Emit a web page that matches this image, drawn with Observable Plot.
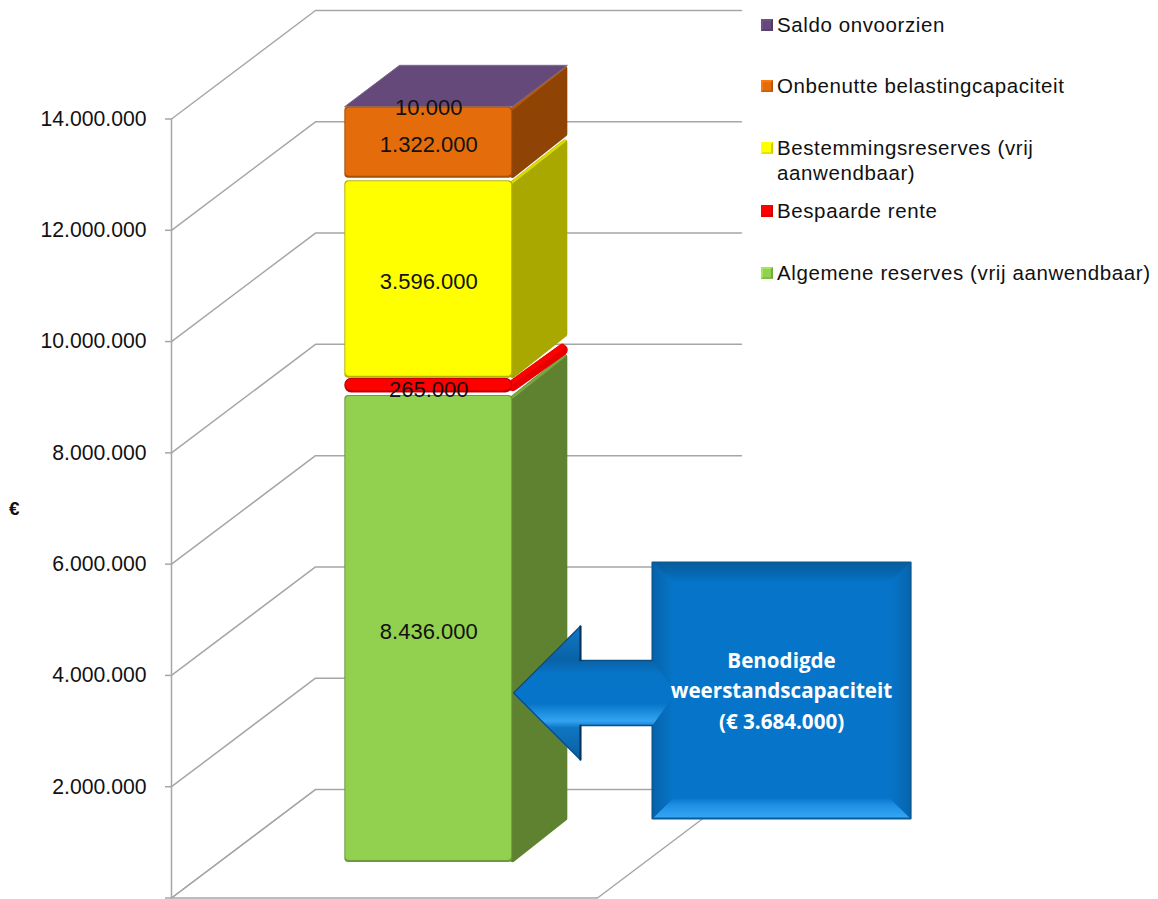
<!DOCTYPE html>
<html lang="nl">
<head>
<meta charset="utf-8">
<title>Weerstandscapaciteit</title>
<script src="https://cdn.jsdelivr.net/npm/d3@7"></script>
<script src="https://cdn.jsdelivr.net/npm/@observablehq/plot@0.6"></script>
<style>
  html, body { margin: 0; padding: 0; background: #fff; overflow: hidden; }
  #chart { position: relative; width: 1158px; height: 899px; font-family: "Liberation Sans", Arial, sans-serif; }
  #chart svg { display: block; overflow: visible; }
  .legend-item { position: absolute; left: 761px; color: #111; font-size: 20.5px; line-height: 25px; letter-spacing: 0.6px; width: 394px; padding-left: 16px; box-sizing: border-box; }
  .legend-item i { position: absolute; left: 0; top: 7px; width: 12px; height: 12px; box-sizing: border-box; border: 2px solid; }
  .euro { position: absolute; left: 9px; top: 498px; font-size: 19px; font-weight: bold; color: #111; }
</style>
</head>
<body>
<div id="chart"></div>
<script>
// Opbouw van de beschikbare weerstandscapaciteit, van onder naar boven gestapeld.
const categories = [
  "Algemene reserves (vrij aanwendbaar)",
  "Bespaarde rente",
  "Bestemmingsreserves (vrij aanwendbaar)",
  "Onbenutte belastingcapaciteit",
  "Saldo onvoorzien"
];
const amounts = [8436000, 265000, 3596000, 1322000, 10000];
const frontColors = ["#92D050", "#FF0000", "#FFFF00", "#E46C0A", "#65497A"];
const sideColors = ["#5F8231", "#E80000", "#A8A800", "#8F4406", "#65497A"];
const edgeColors = ["#6E9A3A", "#C00000", "#B5B500", "#A85006", "#4B3560"];
const ridgeColors = ["#78A93E", "#FF0000", "#DADA00", "#B65A08", "#65497A"];
const legendTops = [260, 198, 135, 73, 12];
const tickValues = [0, 2000000, 4000000, 6000000, 8000000, 10000000, 12000000, 14000000];
const requiredCapacity = 3684000;

const nl = d3.formatLocale({decimal: ",", thousands: ".", grouping: [3], currency: ["€ ", ""]});
const fmt = nl.format(",d");

// Scheve projectie: de diepte van de grafiekruimte, uitgedrukt in schaaleenheden.
const DEPTH_X = 0.338;
const DEPTH_V = 1950000;
const at = (x, v, d = 0) => ({x: x + d * DEPTH_X, v: v + d * DEPTH_V});

const BAR_L = 0.296, BAR_R = 0.69, D_FRONT = 0.328, D_BACK = 0.708;
const GRID = "#A6A6A6";

const poly = (pts, fill, extra = {}) =>
  Plot.line(pts, {x: "x", y: "v", curve: "linear-closed", fill, stroke: "none", ...extra});

// Achterwand en bodem
const gridMarks = tickValues.map((t) =>
  Plot.line([at(0, t), at(0, t, 1), at(1, t, 1)], {x: "x", y: "v", stroke: GRID, strokeWidth: 1.5})
);
const floorMark = Plot.line([at(0, 0, 1), at(0, 0), at(1, 0), at(1, 0, 1)], {x: "x", y: "v", stroke: GRID, strokeWidth: 1.5});

// Gestapelde segmenten
let base = 0;
const segments = amounts.map((amount, i) => {
  const s = {i, name: categories[i], amount, y0: base, y1: base + amount, mid: base + amount / 2};
  base += amount;
  return s;
});
const total = base;

// Zijvlakken met afgeronde hoeken; de rode laag is zo dun dat die als een band loopt.
const ROUND_X = 0.006, ROUND_V = 50000, TOP_TRIM = 40000;
const sideMarks = segments.slice(0, 4).flatMap((s) => {
  if (s.i === 1) {
    return [
      Plot.line([at(BAR_R, s.mid, D_FRONT), at(BAR_R - 0.012, s.mid - 100000, D_BACK)], {
        x: "x", y: "v", stroke: sideColors[1], strokeWidth: 11, strokeLinecap: "round"
      }),
      Plot.line([at(BAR_R, s.mid + 70000, D_FRONT), at(BAR_R - 0.012, s.mid - 30000, D_BACK)], {
        x: "x", y: "v", stroke: ridgeColors[1], strokeWidth: 5, strokeLinecap: "round"
      })
    ];
  }
  const lo = s.y0 + ROUND_V;
  const hi = s.y1 - ROUND_V - TOP_TRIM;
  return [
    poly(
      [at(BAR_R, lo, D_FRONT), at(BAR_R - ROUND_X, lo, D_BACK), at(BAR_R - ROUND_X, hi, D_BACK), at(BAR_R, hi, D_FRONT)],
      sideColors[s.i],
      {stroke: sideColors[s.i], strokeWidth: 5, strokeLinejoin: "round"}
    ),
    Plot.line([at(BAR_R, hi + ROUND_V * 0.4, D_FRONT), at(BAR_R - ROUND_X, hi + ROUND_V * 0.4, D_BACK)], {
      x: "x", y: "v", stroke: ridgeColors[s.i], strokeWidth: 2.5, strokeLinecap: "round"
    })
  ];
});

const topMark = poly(
  [at(BAR_L, total, D_FRONT), at(BAR_L, total, D_BACK), at(BAR_R, total, D_BACK), at(BAR_R, total, D_FRONT)],
  frontColors[4],
  {stroke: "#7C6A90", strokeWidth: 1, dy: 2.5}
);

const frontFrame = (s) => {
  const a = at(BAR_L, s.y0, D_FRONT), b = at(BAR_R, s.y1, D_FRONT);
  return [{x1: a.x, x2: b.x, y1: a.v, y2: b.v}];
};
const frontMarks = segments.slice(0, 4).flatMap((s) => {
  const red = s.i === 1;
  const rx = red ? 7 : 4;
  const top = red ? 0 : 2.5;
  const box = {x1: "x1", x2: "x2", y1: "y1", y2: "y2", rx, ry: rx};
  return [
    Plot.rect(frontFrame(s), {...box, fill: edgeColors[s.i], insetTop: top}),
    Plot.rect(frontFrame(s), {...box, fill: frontColors[s.i], insetTop: top + 1, insetBottom: 2, insetLeft: 1, insetRight: 1})
  ];
});

const labelMark = Plot.text(segments, {
  x: () => at((BAR_L + BAR_R) / 2, 0, D_FRONT).x,
  y: (s) => at(0, s.mid, D_FRONT).v,
  text: (s) => fmt(s.amount),
  dy: 4,
  fontSize: 22,
  fontFamily: "Liberation Sans",
  fill: "#111"
});

// Kader met de benodigde weerstandscapaciteit
const BOX = {x1: 1.129, x2: 1.735, v1: 1430000, v2: 6030000, bx: 0.05, bv: 370000};
const corner = (x, v) => ({x, v});
const boxOuter = {tl: corner(BOX.x1, BOX.v2), tr: corner(BOX.x2, BOX.v2), br: corner(BOX.x2, BOX.v1), bl: corner(BOX.x1, BOX.v1)};
const boxInner = {
  tl: corner(BOX.x1 + BOX.bx, BOX.v2 - BOX.bv), tr: corner(BOX.x2 - BOX.bx, BOX.v2 - BOX.bv),
  br: corner(BOX.x2 - BOX.bx, BOX.v1 + BOX.bv), bl: corner(BOX.x1 + BOX.bx, BOX.v1 + BOX.bv)
};
const boxMarks = [
  poly([boxOuter.tl, boxOuter.tr, boxOuter.br, boxOuter.bl], "#0675C9"),
  poly([boxOuter.tl, boxOuter.tr, boxInner.tr, boxInner.tl], "url(#bevelTop)"),
  poly([boxOuter.bl, boxOuter.br, boxInner.br, boxInner.bl], "url(#bevelBottom)"),
  poly([boxOuter.tl, boxInner.tl, boxInner.bl, boxOuter.bl], "url(#bevelLeft)"),
  poly([boxOuter.tr, boxInner.tr, boxInner.br, boxOuter.br], "url(#bevelRight)"),
  poly([boxOuter.tl, boxOuter.tr, boxOuter.br, boxOuter.bl], "none", {stroke: "#0A5A96", strokeWidth: 2})
];

// Pijl die naar het benodigde bedrag wijst
const TIP_X = 0.803, HEAD_X = 0.96, TAIL_X = 1.129, NOSE_X = 1.183;
const HEAD_V = 1200000, SHAFT_V = 585000;
const C = requiredCapacity;
const arrowPts = [
  corner(TIP_X, C), corner(HEAD_X, C + HEAD_V), corner(HEAD_X, C + SHAFT_V), corner(TAIL_X, C + SHAFT_V),
  corner(NOSE_X, C), corner(TAIL_X, C - SHAFT_V), corner(HEAD_X, C - SHAFT_V), corner(HEAD_X, C - HEAD_V)
];
const arrowOutline = [
  corner(TAIL_X, C + SHAFT_V), corner(HEAD_X, C + SHAFT_V), corner(HEAD_X, C + HEAD_V), corner(TIP_X, C),
  corner(HEAD_X, C - HEAD_V), corner(HEAD_X, C - SHAFT_V), corner(TAIL_X, C - SHAFT_V)
];
const arrowMarks = [
  poly(arrowPts, "url(#arrowFill)"),
  Plot.line(arrowOutline, {x: "x", y: "v", stroke: "#0A4F86", strokeWidth: 1.5, strokeLinejoin: "miter"}),
  Plot.line([corner(HEAD_X, C + HEAD_V), corner(HEAD_X, C + SHAFT_V)], {x: "x", y: "v", stroke: "#06355C", strokeWidth: 2}),
  Plot.line([corner(HEAD_X, C - HEAD_V), corner(HEAD_X, C - SHAFT_V)], {x: "x", y: "v", stroke: "#06355C", strokeWidth: 2})
];

const calloutLines = ["Benodigde", "weerstandscapaciteit", `(€ ${fmt(requiredCapacity)})`];
const calloutMark = Plot.text(calloutLines, {
  x: () => (BOX.x1 + BOX.x2) / 2,
  y: (d, i) => C + 570000 - i * 550000,
  text: (d) => d,
  fill: "#fff",
  fontFamily: "Open Sans",
  fontWeight: 700,
  fontSize: 20.6
});

const gradient = (id, x2, y2, stops) => `
  <linearGradient id="${id}" x1="0" y1="0" x2="${x2}" y2="${y2}">
    ${stops.map(([o, c]) => `<stop offset="${o}" stop-color="${c}"/>`).join("")}
  </linearGradient>`;

// Kleurverlopen voor de afgeschuinde randen van kader en pijl
const defsMark = () => {
  const g = document.createElementNS("http://www.w3.org/2000/svg", "g");
  g.innerHTML = `<defs>
    ${gradient("bevelTop", 0, 1, [[0, "#0A5C9E"], [0.5, "#0567AF"], [1, "#0675C9"]])}
    ${gradient("bevelBottom", 0, 1, [[0, "#0675C9"], [0.35, "#1E8FE2"], [1, "#36A8F7"]])}
    ${gradient("bevelLeft", 1, 0, [[0, "#0763AA"], [1, "#0675C9"]])}
    ${gradient("bevelRight", 1, 0, [[0, "#0675C9"], [1, "#0665AE"]])}
    ${gradient("arrowFill", 0, 1, [[0, "#1078C8"], [0.25, "#0A62A6"], [0.36, "#0675C9"], [0.58, "#0675C9"], [0.71, "#32A4F2"], [0.76, "#0F76C4"], [1, "#0A5E9E"]])}
  </defs>`;
  return g;
};

const plot = Plot.plot({
  width: 1158,
  height: 899,
  marginLeft: 171,
  marginRight: 561,
  marginTop: 118.5,
  marginBottom: 1.5,
  x: {domain: [0, 1], axis: null},
  y: {domain: [0, 14000000], axis: null},
  style: {background: "#fff", fontFamily: "Liberation Sans", overflow: "visible"},
  marks: [
    defsMark,
    ...gridMarks,
    floorMark,
    Plot.ruleX([0], {y1: 0, y2: 14000000, stroke: GRID, strokeWidth: 1.5}),
    Plot.axisY({
      ticks: tickValues,
      tickSize: 6,
      tickPadding: 19,
      tickFormat: (d) => (d === 0 ? "" : fmt(d)),
      label: null,
      stroke: GRID,
      fill: "#111",
      strokeWidth: 1.5,
      fontSize: 21.2
    }),
    ...sideMarks,
    topMark,
    ...frontMarks,
    labelMark,
    ...boxMarks,
    ...arrowMarks,
    calloutMark
  ]
});

const root = document.getElementById("chart");
root.appendChild(plot);

const euro = document.createElement("div");
euro.className = "euro";
euro.textContent = "€";
root.appendChild(euro);

// Legenda rechts van de grafiek
categories.forEach((name, i) => {
  const item = document.createElement("div");
  item.className = "legend-item";
  item.style.top = legendTops[i] + "px";
  const swatch = document.createElement("i");
  swatch.style.background = frontColors[i];
  swatch.style.borderColor = `${d3.color(frontColors[i]).brighter(0.3)} ${d3.color(frontColors[i]).darker(0.6)} ${d3.color(frontColors[i]).darker(0.3)} ${d3.color(frontColors[i]).brighter(0.3)}`;
  item.appendChild(swatch);
  item.appendChild(document.createTextNode(name));
  root.appendChild(item);
});
</script>
</body>
</html>
